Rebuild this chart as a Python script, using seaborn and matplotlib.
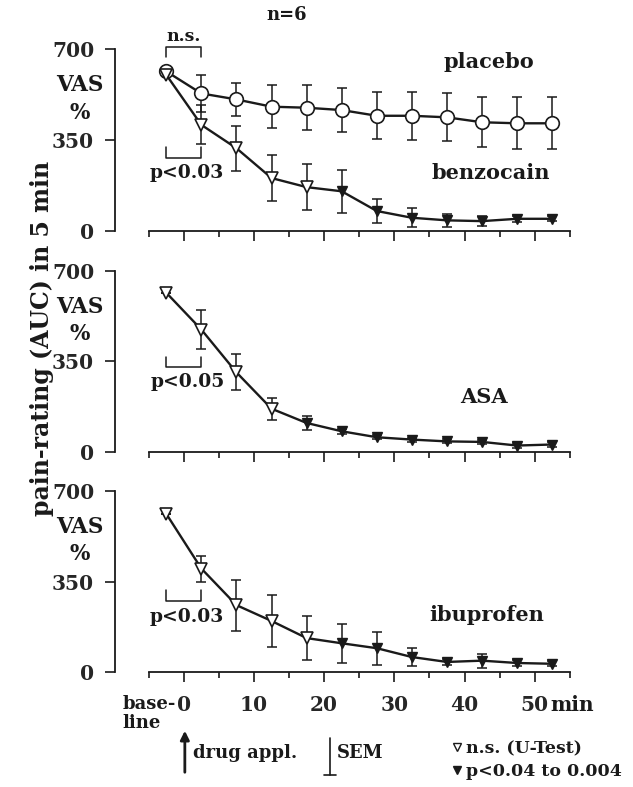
import matplotlib
matplotlib.use("Agg")
import matplotlib.pyplot as plt
from matplotlib.lines import Line2D
from matplotlib.patches import FancyArrowPatch
import seaborn as sns

minutes = [-2.5, 2.5, 7.5, 12.5, 17.5, 22.5, 27.5, 32.5, 37.5, 42.5, 47.5, 52.5]

placebo = [615, 530, 507, 479, 475, 466, 444, 444, 438, 419, 415, 415]
placebo_sem = [0, 73, 64, 83, 87, 86, 90, 93, 92, 96, 100, 100]

benzocain = [602, 409, 319, 204, 169, 153, 77, 51, 41, 38, 47, 47]
benzocain_sem = [0, 75, 87, 88, 88, 82, 48, 36, 25, 19, 12, 10]
benzocain_sig = [0, 0, 0, 0, 0, 1, 1, 1, 1, 1, 1, 1]

asa = [615, 473, 308, 168, 113, 81, 58, 49, 42, 40, 26, 30]
asa_sem = [0, 75, 69, 43, 28, 10, 8, 8, 8, 8, 8, 8]
asa_sig = [0, 0, 0, 0, 1, 1, 1, 1, 1, 1, 1, 1]

ibuprofen = [611, 400, 259, 198, 132, 112, 93, 59, 40, 45, 36, 33]
ibuprofen_sem = [0, 50, 98, 100, 86, 76, 64, 33, 10, 27, 10, 10]
ibuprofen_sig = [0, 0, 0, 0, 0, 1, 1, 1, 1, 1, 1, 1]

y_ticks = [0, 350, 700]
x_major = [-5, 0, 10, 20, 30, 40, 50]
x_major_labels = ["", "0", "10", "20", "30", "40", "50"]
x_minor = [5, 15, 25, 35, 45, 55]

sns.set_style("white")
plt.rcParams["font.family"] = ["DejaVu Serif", "DejaVu Sans"]
plt.rcParams["font.weight"] = "bold"
INK = "#1a1a1a"
plt.rcParams["text.color"] = INK

fig = plt.figure(figsize=(6.33, 7.87), dpi=100)
rects = [[0.1817, 0.6999, 0.7406, 0.2440],
         [0.1817, 0.4187, 0.7406, 0.2440],
         [0.1817, 0.1391, 0.7406, 0.2440]]
axes = [fig.add_axes(r) for r in rects]


def draw_series(ax, vals, sem, sig, marker, open_size, fill_size):
    ax.errorbar(minutes, vals, yerr=sem, fmt="none", ecolor=INK,
                elinewidth=1.1, capsize=3.8, capthick=1.1, zorder=2)
    sns.lineplot(x=minutes, y=vals, ax=ax, color=INK, lw=1.7, zorder=3)
    xo = [m for m, s in zip(minutes, sig) if not s]
    yo = [v for v, s in zip(vals, sig) if not s]
    xf = [m for m, s in zip(minutes, sig) if s]
    yf = [v for v, s in zip(vals, sig) if s]
    ax.plot(xo, yo, ls="none", marker=marker, ms=open_size, mfc="white",
            mec=INK, mew=1.2, zorder=4)
    ax.plot(xf, yf, ls="none", marker=marker, ms=fill_size, mfc=INK,
            mec=INK, mew=1.0, zorder=4)


def bracket(ax, y_line, y_leg):
    ax.plot([-2.5, -2.5, 2.5, 2.5], [y_leg, y_line, y_line, y_leg],
            color=INK, lw=1.1, clip_on=False)


for i, ax in enumerate(axes):
    ax.set_xlim(-9.8, 57)
    ax.set_ylim(-20, 720)
    for s in ["top", "right"]:
        ax.spines[s].set_visible(False)
    ax.spines["left"].set_bounds(0, 700)
    ax.spines["bottom"].set_position(("data", 0))
    ax.spines["bottom"].set_bounds(-5, 55)
    for s in ["left", "bottom"]:
        ax.spines[s].set_linewidth(1.3)
        ax.spines[s].set_color(INK)
    ax.set_yticks(y_ticks)
    ax.set_yticklabels([str(t) for t in y_ticks], fontsize=14.5, fontweight="bold")
    ax.set_xticks(x_major)
    ax.set_xticks(x_minor, minor=True)
    if i == 2:
        ax.set_xticklabels(x_major_labels, fontsize=14.5, fontweight="bold")
    else:
        ax.set_xticklabels([])
    ax.tick_params(axis="y", left=True, direction="out", length=7, width=1.2,
                   pad=8, color=INK)
    ax.tick_params(axis="x", which="major", bottom=True, direction="out", length=7,
                   width=1.2, pad=9, color=INK)
    ax.tick_params(axis="x", which="minor", bottom=True, direction="out", length=4,
                   width=1.2, color=INK)
    ax.xaxis.get_major_ticks()[0].tick1line.set_markersize(4)
    ax.set_xlabel("")
    ax.set_ylabel("")
    ax.text(-14.8, 561, "VAS", ha="center", va="center", fontsize=15.5,
            fontweight="bold", clip_on=False)
    ax.text(-14.8, 455, "%", ha="center", va="center", fontsize=15.5,
            fontweight="bold", clip_on=False)

# top: placebo vs benzocain
ax = axes[0]
draw_series(ax, placebo, placebo_sem, [0] * len(placebo), "o", 9.8, 9.8)
draw_series(ax, benzocain, benzocain_sem, benzocain_sig, "v", 8.5, 7)
bracket(ax, 709, 670)
ax.text(0, 718, "n.s.", ha="center", va="bottom", fontsize=12.5, fontweight="bold")
bracket(ax, 281, 324)
ax.text(0.5, 223, "p<0.03", ha="center", va="center", fontsize=13.5, fontweight="bold")
ax.text(43.5, 651, "placebo", ha="center", va="center", fontsize=15, fontweight="bold")
ax.text(43.7, 223, "benzocain", ha="center", va="center", fontsize=15, fontweight="bold")

# middle: ASA
ax = axes[1]
draw_series(ax, asa, asa_sem, asa_sig, "v", 8.5, 7)
bracket(ax, 330, 369)
ax.text(0.5, 272, "p<0.05", ha="center", va="center", fontsize=13.5, fontweight="bold")
ax.text(42.8, 214, "ASA", ha="center", va="center", fontsize=15, fontweight="bold")

# bottom: ibuprofen
ax = axes[2]
draw_series(ax, ibuprofen, ibuprofen_sem, ibuprofen_sig, "v", 8.5, 7)
bracket(ax, 276, 317)
ax.text(0.5, 214, "p<0.03", ha="center", va="center", fontsize=13.5, fontweight="bold")
ax.text(43.2, 221, "ibuprofen", ha="center", va="center", fontsize=15, fontweight="bold")
ax.annotate("min", xy=(52.3, 0), xytext=(0, -16), textcoords="offset points",
            ha="left", va="top", fontsize=14.5, fontweight="bold")
ax.annotate("base-\nline", xy=(-8.7, 0), xytext=(0, -16.5), textcoords="offset points",
            ha="left", va="top", fontsize=13, fontweight="bold", linespacing=1.05,
            annotation_clip=False)

fig.text(0.066, 0.570, "pain-rating (AUC) in 5 min", rotation=90, ha="center",
         va="center", fontsize=17, fontweight="bold")
fig.text(0.453, 0.981, "n=6", ha="center", va="center", fontsize=13, fontweight="bold")

# drug application arrow
fig.add_artist(FancyArrowPatch((0.292, 0.0152), (0.292, 0.075), transform=fig.transFigure,
                               arrowstyle="-|>", mutation_scale=13, lw=2, color=INK))
fig.text(0.305, 0.0432, "drug appl.", ha="left", va="center", fontsize=13,
         fontweight="bold")

# SEM symbol
fig.add_artist(Line2D([0.521, 0.521], [0.0152, 0.0623], transform=fig.transFigure,
                      color=INK, lw=1.2))
fig.add_artist(Line2D([0.512, 0.531], [0.0152, 0.0152], transform=fig.transFigure,
                      color=INK, lw=1.2))
fig.text(0.532, 0.0432, "SEM", ha="left", va="center", fontsize=13, fontweight="bold")

handles = [Line2D([], [], ls="none", marker="v", ms=6, mfc="white", mec=INK, mew=1.0),
           Line2D([], [], ls="none", marker="v", ms=6, mfc=INK, mec=INK)]
fig.legend(handles, ["n.s. (U-Test)", "p<0.04 to 0.004"], loc="lower left",
           bbox_to_anchor=(0.697, -0.004), frameon=False, handlelength=0.6,
           handletextpad=0.25, labelspacing=0.3, borderpad=0.1,
           prop={"size": 12.5, "weight": "bold"})

fig.savefig("out.png", dpi=100, facecolor="white")
